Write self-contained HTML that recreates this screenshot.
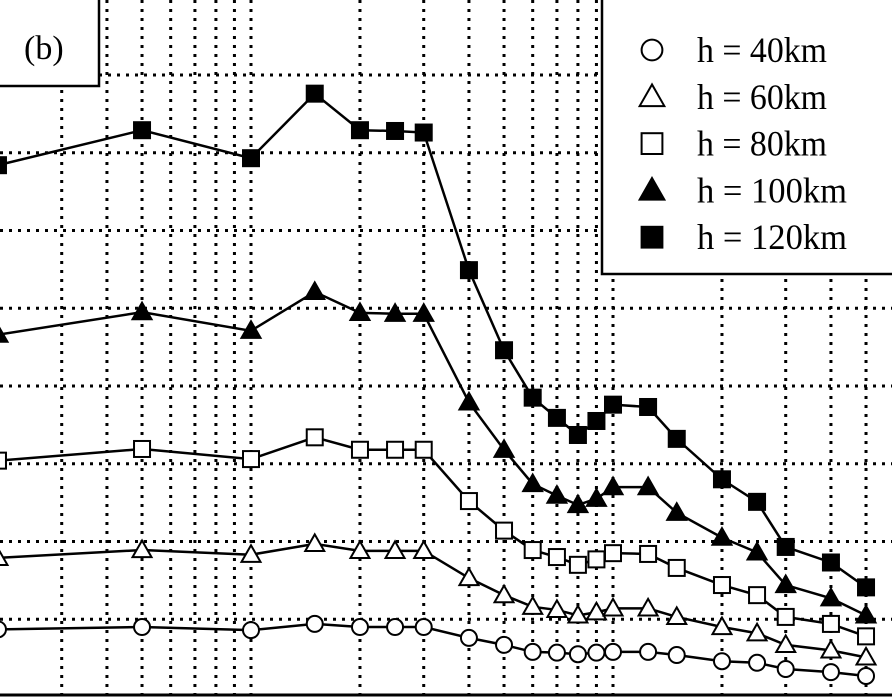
<!DOCTYPE html>
<html><head><meta charset="utf-8"><style>
html,body{margin:0;padding:0;background:#fff;}
svg{display:block;}
text{font-family:"Liberation Serif",serif;fill:#000;}
</style></head><body>
<svg id="chart" width="892" height="697" viewBox="0 0 892 697" xmlns="http://www.w3.org/2000/svg">
<g id="grid"></g>
<g id="series"></g>
<line x1="0" y1="695" x2="892" y2="695" stroke="#000" stroke-width="3"/>
<g>
<rect x="-3" y="-3" width="102" height="89" fill="#fff" stroke="#000" stroke-width="2.5"/>
<text x="24" y="59" font-size="34">(b)</text>
</g>
<g id="legend">
<rect x="602" y="-3" width="295" height="277" fill="#fff" stroke="#000" stroke-width="2.5"/>
</g>
</svg>
<script>
const xValues = [0.2,0.5,1,1.5,2,2.5,3,4,5,6,7,8,9,10,12.5,15,20,25,30,40,50];
const h40  = [0.87,0.90,0.86,0.94,0.90,0.90,0.90,0.76,0.67,0.58,0.57,0.55,0.57,0.58,0.58,0.54,0.46,0.44,0.36,0.32,0.27];
const h60  = [1.79,1.89,1.83,1.97,1.88,1.88,1.88,1.53,1.31,1.16,1.12,1.05,1.09,1.14,1.14,1.03,0.90,0.82,0.67,0.60,0.51];
const h80  = [3.04,3.19,3.06,3.34,3.18,3.18,3.18,2.52,2.14,1.89,1.80,1.70,1.77,1.85,1.84,1.66,1.44,1.31,1.03,0.94,0.78];
const h100 = [4.66,4.95,4.71,5.21,4.94,4.93,4.93,3.79,3.18,2.74,2.59,2.47,2.55,2.70,2.70,2.37,2.05,1.86,1.44,1.27,1.05];
const h120 = [6.84,7.29,6.93,7.76,7.29,7.28,7.26,5.49,4.46,3.85,3.59,3.37,3.55,3.76,3.73,3.32,2.80,2.51,1.93,1.73,1.41];
const xGridValues = [0.3,0.4,0.5,0.6,0.7,0.8,0.9,1,2,3,4,5,6,7,8,9,10,20,30,40,50];
const yGridValues = [1,2,3,4,5,6,7,8];
const legendLabels = ["h = 40km","h = 60km","h = 80km","h = 100km","h = 120km"];

const NS="http://www.w3.org/2000/svg";
function X(v){return 251+362*Math.log10(v);}
function Y(v){return 697-77.75*v;}
function mk(tag,attrs,parent){const e=document.createElementNS(NS,tag);for(const k in attrs)e.setAttribute(k,attrs[k]);parent.appendChild(e);return e;}

const grid=document.getElementById('grid');
xGridValues.forEach(v=>{
  const l=mk('line',{x1:X(v),x2:X(v),y1:0,y2:697,stroke:'#000','stroke-width':3,'stroke-dasharray':'3 6'},grid);
  
  
});
yGridValues.forEach(v=>{
  const l=mk('line',{x1:0,x2:892,y1:Y(v),y2:Y(v),stroke:'#000','stroke-width':3,'stroke-dasharray':'3 6'},grid);
  
  
});

function marker(type,cx,cy,parent,k){
  k=k||1;
  let e;
  if(type==='circle'){e=mk('circle',{cx:cx,cy:cy,r:8*k,fill:'#fff',stroke:'#000','stroke-width':2},parent);}
  else if(type==='otri'||type==='ftri'){
    const s=9.5*k;
    e=mk('polygon',{points:`${cx},${cy-s} ${cx-s},${cy+s*0.75} ${cx+s},${cy+s*0.75}`,fill:type==='ftri'?'#000':'#fff',stroke:'#000','stroke-width':2},parent);
  } else {
    const s=8*k;
    e=mk('rect',{x:cx-s,y:cy-s,width:2*s,height:2*s,fill:type==='fsq'?'#000':'#fff',stroke:'#000','stroke-width':2},parent);
  }
  return e;
}

const seriesDefs=[[h40,'circle','h40'],[h60,'otri','h60'],[h80,'osq','h80'],[h100,'ftri','h100'],[h120,'fsq','h120']];
const sg=document.getElementById('series');
seriesDefs.forEach(([vals,type,name])=>{
  const g=mk('g',{},sg);
  
  
  const pts=vals.map((v,i)=>X(xValues[i])+','+Y(v)).join(' ');
  const pl=mk('polyline',{points:pts,fill:'none',stroke:'#000','stroke-width':2.5},g);
  
  
  vals.forEach((v,i)=>{
    const m=marker(type,X(xValues[i]),Y(v),g);
    
    
  });
});

const lg=document.getElementById('legend');
const types=['circle','otri','osq','ftri','fsq'];
legendLabels.forEach((t,i)=>{
  const cy=50+i*46.8;
  const m=marker(types[i],652,cy,lg,1.3);
  
  
  const tx=mk('text',{x:697,y:cy+12,'font-size':36,'textLength':(t.length>8?150:130),'lengthAdjust':'spacingAndGlyphs'},lg);
  tx.textContent=t;
  
  
});
</script>
</body></html>
